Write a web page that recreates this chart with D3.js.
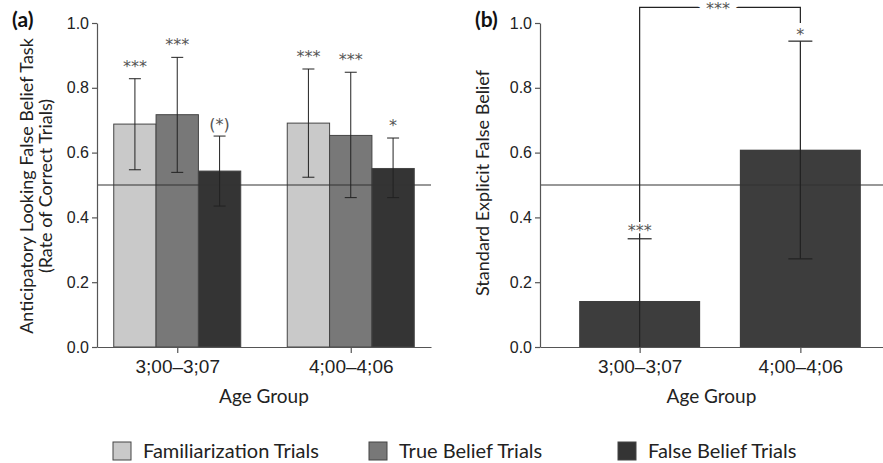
<!DOCTYPE html>
<html>
<head>
<meta charset="utf-8">
<script src="https://cdn.jsdelivr.net/npm/d3@7"></script>
<style>
  body { margin: 0; background: #fff; }
  svg { display: block; font-family: Lato, "Open Sans", sans-serif; }
  .axis path, .axis line { stroke: #555; stroke-width: 1.2; }
  .axis text { fill: #222; }
  .sig { font-family: "DejaVu Sans", sans-serif; fill: #555; }
</style>
</head>
<body>
<div id="chart"></div>
<script>
// Data
const groups = ["3;00–3;07", "4;00–4;06"];
const series = ["Familiarization Trials", "True Belief Trials", "False Belief Trials"];
const seriesColors = ["#c9c9c9", "#787878", "#343434"];

// panel (a): anticipatory looking, rate of correct trials
const lookMean  = [[0.688, 0.717, 0.543], [0.691, 0.653, 0.551]];
const lookUpper = [[0.828, 0.894, 0.651], [0.858, 0.848, 0.645]];
const lookLower = [[0.547, 0.539, 0.435], [0.524, 0.461, 0.461]];
const lookSig   = [["***", "***", "(*)"], ["***", "***", "*"]];

// panel (b): standard explicit false belief
const explMean  = [0.142, 0.609];
const explUpper = [0.334, 0.944];
const explLower = [0.0, 0.272];
const explSig   = ["***", "*"];
const bracketLevel = 1.048;
const bracketSig = "***";

const yTicks = [0, 0.2, 0.4, 0.6, 0.8, 1.0];
const chance = 0.5;

const width = 883, height = 463;

const svg = d3.select("#chart").append("svg")
  .attr("width", width)
  .attr("height", height)
  .attr("viewBox", `0 0 ${width} ${height}`);

const y = d3.scaleLinear().domain([0, 1]).range([347, 23]);

// ---------- PANEL (a)
const xa = d3.scalePoint().domain(groups).range([97, 431]).padding(0.4625);
const xInner = d3.scaleBand().domain(series).range([-63.5, 63.5]);

const pa = svg.append("g");

const rows = [];
groups.forEach((g, gi) => series.forEach((s, si) => rows.push({
  group: g, series: s, si: si,
  mean: lookMean[gi][si], hi: lookUpper[gi][si], lo: lookLower[gi][si], sig: lookSig[gi][si]
})));

pa.selectAll("rect.bar")
  .data(rows)
  .join("rect")
    .attr("class", "bar")
    .attr("x", d => xa(d.group) + xInner(d.series))
    .attr("y", d => y(d.mean))
    .attr("width", xInner.bandwidth())
    .attr("height", d => y(0) - y(d.mean))
    .attr("fill", d => seriesColors[d.si])
    .attr("stroke", "#444")
    .attr("stroke-width", 1);

// chance line
pa.append("line")
  .attr("x1", 97).attr("x2", 431)
  .attr("y1", y(chance)).attr("y2", y(chance))
  .attr("stroke", "#333").attr("stroke-width", 1.2);

// error bars
const capA = 12;
const eb = pa.selectAll("g.err").data(rows).join("g").attr("class", "err")
  .attr("transform", d => `translate(${xa(d.group) + xInner(d.series) + xInner.bandwidth() / 2},0)`);
eb.append("line").attr("y1", d => y(d.lo)).attr("y2", d => y(d.hi))
  .attr("stroke", "#222").attr("stroke-width", 1);
eb.append("line").attr("x1", -capA / 2).attr("x2", capA / 2)
  .attr("y1", d => y(d.hi)).attr("y2", d => y(d.hi))
  .attr("stroke", "#222").attr("stroke-width", 1);
eb.append("line").attr("x1", -capA / 2).attr("x2", capA / 2)
  .attr("y1", d => y(d.lo)).attr("y2", d => y(d.lo))
  .attr("stroke", "#222").attr("stroke-width", 1);
eb.append("text")
  .attr("class", "sig")
  .attr("y", d => y(d.hi) - (d.sig === "(*)" ? 6 : 7))
  .attr("text-anchor", "middle")
  .attr("font-size", 16)
  .text(d => d.sig);

// axes
pa.append("g").attr("class", "axis")
  .attr("transform", `translate(97,0)`)
  .call(d3.axisLeft(y).tickValues(yTicks).tickFormat(d3.format(".1f")).tickSize(5).tickSizeOuter(0))
  .selectAll("text").attr("font-size", 16);

pa.append("g").attr("class", "axis")
  .attr("transform", `translate(0,${y(0)})`)
  .call(d3.axisBottom(xa).tickSize(6).tickPadding(7).tickSizeOuter(0))
  .selectAll("text").attr("font-size", 19);

pa.append("text")
  .attr("x", (97 + 431) / 2).attr("y", 403)
  .attr("text-anchor", "middle").attr("font-size", 19).attr("fill", "#222")
  .text("Age Group");

pa.append("text")
  .attr("transform", "translate(33,186) rotate(-90)")
  .attr("text-anchor", "middle").attr("font-size", 18).attr("fill", "#222")
  .text("Anticipatory Looking False Belief Task");
pa.append("text")
  .attr("transform", "translate(52,186) rotate(-90)")
  .attr("text-anchor", "middle").attr("font-size", 18).attr("fill", "#222")
  .text("(Rate of Correct Trials)");

pa.append("text")
  .attr("x", 12).attr("y", 27)
  .attr("font-size", 21).attr("font-weight", "bold").attr("fill", "#111")
  .text("(a)");

// ---------- PANEL (b)
const xb = d3.scalePoint().domain(groups).range([540, 900]).padding(0.62);
const barW = 121;
const pb = svg.append("g");

const rowsB = groups.map((g, i) => ({
  group: g, mean: explMean[i], hi: explUpper[i], lo: explLower[i], sig: explSig[i]
}));

pb.selectAll("rect.bar")
  .data(rowsB)
  .join("rect")
    .attr("class", "bar")
    .attr("x", d => xb(d.group) - barW / 2)
    .attr("y", d => y(d.mean))
    .attr("width", barW)
    .attr("height", d => y(0) - y(d.mean))
    .attr("fill", "#3d3d3d");

pb.append("line")
  .attr("x1", 540).attr("x2", width)
  .attr("y1", y(chance)).attr("y2", y(chance))
  .attr("stroke", "#333").attr("stroke-width", 1.2);

// comparison bracket
const bx0 = xb(groups[0]), bx1 = xb(groups[1]);
pb.append("path")
  .attr("d", `M${bx0},${y(explUpper[0])}V${y(bracketLevel)}H${bx1}V${y(1.0)}`)
  .attr("fill", "none").attr("stroke", "#222").attr("stroke-width", 1.2);
pb.append("text")
  .attr("class", "sig")
  .attr("x", (bx0 + bx1) / 2 - 2).attr("y", y(bracketLevel) + 7)
  .attr("text-anchor", "middle").attr("font-size", 16)
  .attr("stroke", "#fff").attr("stroke-width", 12).attr("paint-order", "stroke")
  .text(bracketSig);

const capB = 24;
const ebB = pb.selectAll("g.err").data(rowsB).join("g").attr("class", "err")
  .attr("transform", d => `translate(${xb(d.group)},0)`);
ebB.append("line").attr("y1", d => y(d.lo)).attr("y2", d => y(d.hi))
  .attr("stroke", "#222").attr("stroke-width", 1.2);
ebB.append("line").attr("x1", -capB / 2).attr("x2", capB / 2)
  .attr("y1", d => y(d.hi)).attr("y2", d => y(d.hi))
  .attr("stroke", "#222").attr("stroke-width", 1.2);
ebB.filter(d => d.lo > 0).append("line").attr("x1", -capB / 2).attr("x2", capB / 2)
  .attr("y1", d => y(d.lo)).attr("y2", d => y(d.lo))
  .attr("stroke", "#222").attr("stroke-width", 1.2);
ebB.append("text")
  .attr("class", "sig")
  .attr("y", (d, i) => y(d.hi) - (i === 0 ? 3 : 1))
  .attr("text-anchor", "middle").attr("font-size", 16)
  .attr("stroke", "#fff").attr("stroke-width", 4).attr("paint-order", "stroke")
  .text(d => d.sig);

pb.append("g").attr("class", "axis")
  .attr("transform", `translate(540,0)`)
  .call(d3.axisLeft(y).tickValues(yTicks).tickFormat(d3.format(".1f")).tickSize(5).tickSizeOuter(0))
  .selectAll("text").attr("font-size", 16);

pb.append("g").attr("class", "axis")
  .attr("transform", `translate(0,${y(0)})`)
  .call(d3.axisBottom(xb).tickSize(6).tickPadding(7).tickSizeOuter(0))
  .selectAll("text").attr("font-size", 19);

pb.append("text")
  .attr("x", (540 + width) / 2).attr("y", 403)
  .attr("text-anchor", "middle").attr("font-size", 19).attr("fill", "#222")
  .text("Age Group");

pb.append("text")
  .attr("transform", "translate(489,183) rotate(-90)")
  .attr("text-anchor", "middle").attr("font-size", 18).attr("fill", "#222")
  .text("Standard Explicit False Belief");

pb.append("text")
  .attr("x", 475).attr("y", 27)
  .attr("font-size", 21).attr("font-weight", "bold").attr("fill", "#111")
  .text("(b)");

// ---------- LEGEND
const legendX = [113, 369, 618];
const lg = svg.append("g").selectAll("g").data(series).join("g")
  .attr("transform", (d, i) => `translate(${legendX[i]},442)`);
lg.append("rect")
  .attr("width", 18).attr("height", 18)
  .attr("fill", (d, i) => seriesColors[i])
  .attr("stroke", "#444").attr("stroke-width", 1);
lg.append("text")
  .attr("x", 30).attr("y", 16)
  .attr("font-size", 20).attr("fill", "#222")
  .text(d => d);
</script>
</body>
</html>
